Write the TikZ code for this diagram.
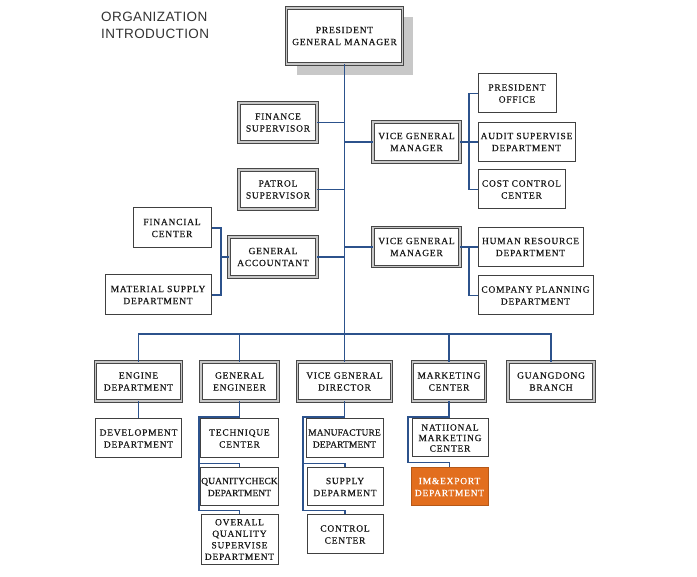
\documentclass[tikz,border=0pt]{standalone}
\usepackage{fontspec}
\setmainfont{Liberation Serif}
\newfontfamily\boxfont{Liberation Serif}[LetterSpace=8,FakeBold=0.5]
\newfontfamily\boxfontt{Liberation Serif}[LetterSpace=1,FakeBold=0.5]
\newfontfamily\titlefont{Liberation Sans}[LetterSpace=3]
\definecolor{connblue}{RGB}{44,82,140}
\definecolor{shadowgray}{RGB}{200,200,200}
\definecolor{orangefill}{RGB}{226,110,30}
\begin{document}
\begin{tikzpicture}[x=1pt,y=-1pt,
  conn/.style={draw=connblue,line width=1.1pt},
  boxtext/.style={font={\boxfont\fontsize{9.5}{12}\selectfont},align=center,inner sep=1pt,text=black!90},
  mainbox/.style={boxtext,draw=black!72,double=black!22,double distance=1.5pt,line width=0.95pt,fill=white},
  leafbox/.style={boxtext,draw=black!75,line width=1pt,fill=white},
  sz/.style 2 args={minimum width=#1pt,minimum height=#2pt}]
\useasboundingbox (0,0) rectangle (697,577);

% title
\node[anchor=north west,inner sep=0,align=left,font={\titlefont\fontsize{13.5}{16.7}\selectfont},text=black!80] (title) at (101,12) {ORGANIZATION\\INTRODUCTION};

% shadow of top box
\fill[shadowgray] (297,17) rectangle (413,75);

% top
\node[mainbox,sz={116}{56}] (pres) at (344.5,36) {PRESIDENT\\GENERAL MANAGER};

% upper branches
\node[mainbox,sz={78}{39}] (fin) at (278,122.5) {FINANCE\\SUPERVISOR};
\node[mainbox,sz={87}{40}] (vgm1) at (416.5,142) {VICE GENERAL\\MANAGER};
\node[leafbox,sz={78}{39}] (po) at (517,93.5) {PRESIDENT\\OFFICE};
\node[leafbox,sz={97}{39}] (asd) at (526.5,142) {AUDIT SUPERVISE\\DEPARTMENT};
\node[leafbox,sz={87}{39}] (ccc) at (521.5,189.5) {COST CONTROL\\CENTER};
\node[mainbox,sz={78}{39}] (patrol) at (278,189.5) {PATROL\\SUPERVISOR};
\node[leafbox,sz={78}{40}] (fc) at (172,228) {FINANCIAL\\CENTER};
\node[leafbox,sz={106}{40}] (ms) at (158,295) {MATERIAL SUPPLY\\DEPARTMENT};
\node[mainbox,sz={88}{40}] (ga) at (273,257) {GENERAL\\ACCOUNTANT};
\node[mainbox,sz={87}{39}] (vgm2) at (416.5,247) {VICE GENERAL\\MANAGER};
\node[leafbox,sz={105}{39}] (hr) at (530.5,247) {HUMAN RESOURCE\\DEPARTMENT};
\node[leafbox,sz={115}{39}] (cp) at (535.5,295.5) {COMPANY PLANNING\\DEPARTMENT};

% second level
\node[mainbox,sz={86}{39}] (eng) at (138.5,381.5) {ENGINE\\DEPARTMENT};
\node[mainbox,sz={77}{39}] (ge) at (239.5,381.5) {GENERAL\\ENGINEER};
\node[mainbox,sz={94}{39}] (vgd) at (344.5,381.5) {VICE GENERAL\\DIRECTOR};
\node[mainbox,sz={73}{39}] (mc) at (449,381.5) {MARKETING\\CENTER};
\node[mainbox,sz={86}{39}] (gb) at (551,381.5) {GUANGDONG\\BRANCH};

% sub boxes
\node[leafbox,sz={86}{39}] (dev) at (138.5,438.5) {DEVELOPMENT\\DEPARTMENT};
\node[leafbox,sz={78}{39}] (tc) at (239.5,438.5) {TECHNIQUE\\CENTER};
\node[leafbox,sz={77}{38},font={\boxfontt\fontsize{9.5}{12}\selectfont}] (qc) at (239.5,487) {QUANITYCHECK\\DEPARTMENT};
\node[leafbox,sz={77}{49},font={\boxfont\fontsize{9.5}{11.5}\selectfont}] (ov) at (239.5,539.5) {OVERALL\\QUANLITY\\SUPERVISE\\DEPARTMENT};
\node[leafbox,sz={77}{39},font={\boxfontt\fontsize{9.5}{12}\selectfont}] (mfd) at (344.5,438.5) {MANUFACTURE\\DEPARTMENT};
\node[leafbox,sz={76}{38}] (sup) at (345,487) {SUPPLY\\DEPARMENT};
\node[leafbox,sz={76}{39}] (cc) at (345,534.5) {CONTROL\\CENTER};
\node[leafbox,sz={76}{38},font={\boxfont\fontsize{9.5}{10.5}\selectfont}] (nmc) at (450,438) {NATIIONAL\\MARKETING\\CENTER};
\node[leafbox,sz={77}{38},fill=orangefill,draw=orangefill!80!black,text=white] (ime) at (449.5,487) {IM\&EXPORT\\DEPARTMENT};

% helper coordinates
\coordinate (bk1) at (221,257);
\coordinate (bk2) at (469,142);
\coordinate (bk3) at (469,247);
\coordinate (busy) at (0,334);
\coordinate (suby) at (0,417);
\coordinate (gex) at (199,0);
\coordinate (vdx) at (303,0);
\coordinate (mcx) at (408,0);

% trunk and side branches
\draw[conn] (pres.south) -- (pres.south |- vgd.north);
\draw[conn] (fin.east) -- (fin.east -| pres.south);
\draw[conn] (vgm1.west) -- (vgm1.west -| pres.south);
\draw[conn] (patrol.east) -- (patrol.east -| pres.south);
\draw[conn] (ga.east) -- (ga.east -| pres.south);
\draw[conn] (vgm2.west) -- (vgm2.west -| pres.south);

% brackets
\draw[conn] (fc.east) -| (bk1) |- (ms.east);
\draw[conn] (ga.west) -- (bk1);
\draw[conn] (po.west) -| (bk2) |- (ccc.west);
\draw[conn] (vgm1.east) -- (bk2);
\draw[conn] (asd.west) -- (bk2);
\draw[conn] (hr.west) -- (bk3) |- (cp.west);
\draw[conn] (vgm2.east) -- (bk3);

% bus
\draw[conn] (eng.north) |- (gb.north |- busy) -- (gb.north);
\draw[conn] (ge.north) -- (ge.north |- busy);
\draw[conn] (mc.north) -- (mc.north |- busy);

% lower
\draw[conn] (eng.south) -- (dev.north);
\draw[conn] (ge.south) -- (ge.south |- suby) -| ([yshift=4pt]ov.north -| gex) -| (ov.north);
\draw[conn] ([yshift=4pt]qc.north -| gex) -| (qc.north);
\draw[conn] (vgd.south) -- (vgd.south |- suby) -| ([yshift=4pt]cc.north -| vdx) -| (cc.north);
\draw[conn] ([yshift=4pt]sup.north -| vdx) -| (sup.north);
\draw[conn] (mc.south) -- (mc.south |- suby) -| ([yshift=5pt]ime.north -| mcx) -| (ime.north);
\end{tikzpicture}
\end{document}
